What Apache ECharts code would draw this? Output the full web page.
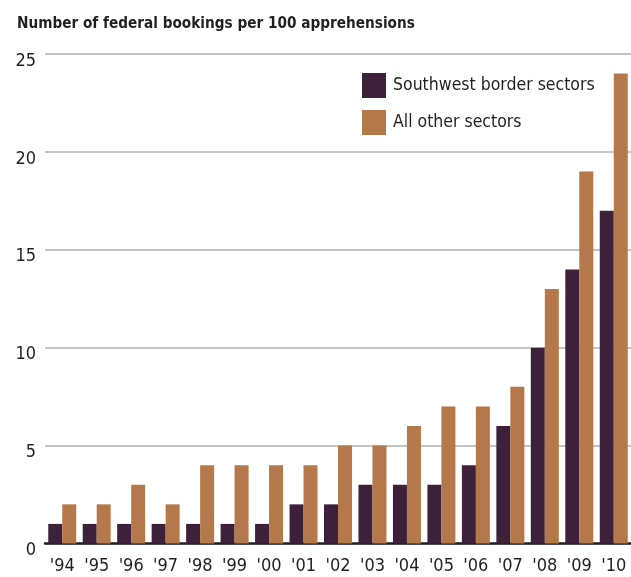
<!DOCTYPE html>
<html>
<head>
<meta charset="utf-8">
<script src="https://cdn.jsdelivr.net/npm/echarts@6/dist/echarts.min.js"></script>
<style>
html,body{margin:0;padding:0;background:#fff;}
#chart{width:631px;height:577px;}
</style>
</head>
<body>
<div id="chart"></div>
<script>
const titleText = 'Number of federal bookings per 100 apprehensions';
const years = ["'94","'95","'96","'97","'98","'99","'00","'01","'02","'03","'04","'05","'06","'07","'08","'09","'10"];
const southwest = [1,1,1,1,1,1,1,2,2,3,3,3,4,6,10,14,17];
const otherSectors = [2,2,3,2,4,4,4,4,5,5,6,7,7,8,13,19,24];
const seriesNames = ['Southwest border sectors','All other sectors'];
const yTicks = {min:0, max:25, interval:5};

const FONT = '"DejaVu Sans Condensed","Liberation Sans Narrow","Roboto",sans-serif';
const chart = echarts.init(document.getElementById('chart'), null, {renderer:'canvas'});
chart.setOption({
  animation:false,
  backgroundColor:'#ffffff',
  title:{
    text:titleText, left:12, top:12,
    textStyle:{fontFamily:FONT, fontWeight:'bold', fontSize:15.2, color:'#231f20'}
  },
  legend:{
    orient:'vertical', left:357, top:68,
    itemWidth:24, itemHeight:25, itemGap:12,
    icon:'rect',
    data:seriesNames,
    textStyle:{fontFamily:FONT, fontSize:17.5, color:'#231f20', padding:[0,0,0,2]}
  },
  grid:{left:45, right:-3, top:54, bottom:33.5, containLabel:false},
  xAxis:{
    type:'category', data:years,
    axisLine:{show:true, lineStyle:{color:'#231f20', width:2.5}},
    axisTick:{show:false},
    axisLabel:{fontFamily:FONT, fontSize:18, color:'#231f20', margin:14, interval:0}
  },
  yAxis:{
    type:'value', min:yTicks.min, max:yTicks.max, interval:yTicks.interval,
    axisLine:{show:false}, axisTick:{show:false},
    splitLine:{show:true, lineStyle:{color:'#b0b0b0', width:1.5}},
    axisLabel:{
      margin:9,
      formatter:function(v){ return '{t|' + v + '}'; },
      rich:{t:{fontFamily:FONT, fontSize:18, color:'#231f20', padding:[14,0,0,0]}}
    }
  },
  series:[
    {name:seriesNames[0], type:'bar', data:southwest, barWidth:14, barGap:'0%',
     itemStyle:{color:'#3d213b'}},
    {name:seriesNames[1], type:'bar', data:otherSectors, barWidth:14, barGap:'0%',
     itemStyle:{color:'#b5784a'}}
  ]
});
</script>
</body>
</html>
